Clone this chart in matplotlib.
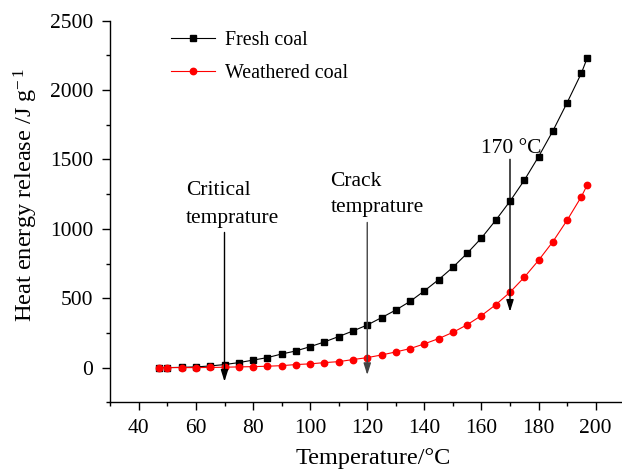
import matplotlib

matplotlib.use("Agg")

import matplotlib.pyplot as plt
from matplotlib.ticker import MultipleLocator

plt.rcParams["font.family"] = ["Liberation Serif", "DejaVu Serif"]
plt.rcParams["mathtext.fontset"] = "custom"
plt.rcParams["mathtext.rm"] = "Liberation Serif"
plt.rcParams["mathtext.it"] = "Liberation Serif:italic"

# heat release curves, J/g, versus temperature in degC
temps = [47, 50, 55, 60, 65, 70, 75, 80, 85, 90, 95, 100, 105, 110, 115, 120,
         125, 130, 135, 140, 145, 150, 155, 160, 165, 170, 175, 180, 185, 190,
         195, 197]
fresh = [0, 0, 2, 5, 12, 22, 36, 54, 72, 98, 120, 151, 185, 224, 264, 307,
         360, 415, 477, 553, 634, 723, 824, 934, 1062, 1199, 1350, 1520, 1705,
         1909, 2122, 2229]
weathered = [0, 0, 0, 0, 1, 3, 5, 7, 10, 14, 22, 27, 36, 43, 58, 72,
             91, 113, 137, 171, 209, 254, 309, 375, 453, 543, 651, 773, 907,
             1062, 1232, 1314]

# temperatures marked with arrows
critical_t = 70
crack_t = 120
turn_t = 170

W, H = 622, 470
fig = plt.figure(figsize=(W / 100, H / 100), dpi=100)
ax = fig.add_axes([110.3 / W, (H - 402.3) / H, (624.2 - 110.3) / W, (402.3 - 20.7) / H])

ax.plot(temps, fresh, color="black", marker="s", markersize=4.8, linewidth=0.8,
        label="Fresh coal")
ax.plot(temps, weathered, color="red", marker="o", markersize=4.6, linewidth=0.8,
        label="Weathered coal")

arrow_kw = dict(arrowstyle="-|>,head_length=0.7,head_width=0.22", mutation_scale=10,
                linewidth=1.0, shrinkA=0, shrinkB=0)
ax.annotate("", xy=(critical_t, -101), xytext=(critical_t, 974),
            arrowprops=dict(color="black", **arrow_kw))
ax.annotate("", xy=(crack_t, -53), xytext=(crack_t, 1046),
            arrowprops=dict(color="#444444", **arrow_kw))
ax.annotate("", xy=(turn_t, 403), xytext=(turn_t, 1501),
            arrowprops=dict(color="black", **arrow_kw))

txt = dict(fontsize=15.5, va="baseline", ha="left")
ax.text(56.4, 1243, "Critical", **txt)
ax.text(56.4, 1043, "temprature", **txt)
ax.text(107.1, 1308, "Crack", **txt)
ax.text(107.4, 1120, "temprature", **txt)
ax.text(160.0, 1545, "170 °C", **txt)

ax.set_xlim(30, 210)
ax.set_ylim(-250, 2500)
ax.xaxis.set_major_locator(MultipleLocator(20))
ax.xaxis.set_minor_locator(MultipleLocator(10))
ax.yaxis.set_major_locator(MultipleLocator(500))
ax.yaxis.set_minor_locator(MultipleLocator(250))
ax.set_xticks(range(40, 201, 20))

for side in ("top", "right"):
    ax.spines[side].set_visible(False)
for side in ("left", "bottom"):
    ax.spines[side].set_linewidth(1.0)

ax.tick_params(which="major", direction="out", length=5.5, width=1.0,
               labelsize=15.5, pad=6.5)
ax.tick_params(which="minor", direction="out", length=2.7, width=1.0)
ax.tick_params(axis="y", which="major", pad=7)

ax.set_xlabel("Temperature/°C", fontsize=17.5)
ax.set_ylabel(r"Heat energy release /J g$^{-\,1}$", fontsize=17.6)
ax.xaxis.set_label_coords(0.511, -0.12)
ax.yaxis.set_label_coords(-0.136, 0.543)

ax.legend(loc="upper left", bbox_to_anchor=(170.7 / W, (H - 31) / H),
          bbox_transform=fig.transFigure, frameon=False, fontsize=14.4,
          borderpad=0, borderaxespad=0, handlelength=2.2, handletextpad=0.5,
          labelspacing=0.72)

fig.savefig("out.png", dpi=100, facecolor="white")
